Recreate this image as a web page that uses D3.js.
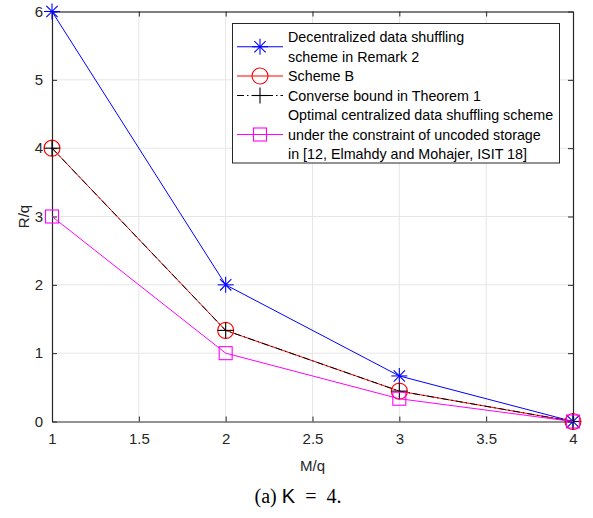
<!DOCTYPE html>
<html>
<head>
<meta charset="utf-8">
<script src="https://cdn.jsdelivr.net/npm/d3@7"></script>
<style>
  body { margin: 0; background: #fff; }
  text { font-family: "Liberation Sans", Arial, sans-serif; }
</style>
</head>
<body>
<div class="chart"></div>
<script>
var svg_width = 593
var svg_height = 518

// Data
var memory = [1, 2, 3, 4]
var decentralized = [6, 2, 2 / 3, 0]
var schemeB = [4, 4 / 3, 4 / 9, 0]
var converse = [4, 4 / 3, 4 / 9, 0]
var centralized = [3, 1, 1 / 3, 0]
var xTicks = [1, 1.5, 2, 2.5, 3, 3.5, 4]
var yTicks = [0, 1, 2, 3, 4, 5, 6]
var legendLabels = [
  ["Decentralized data shuffling", "scheme in Remark 2"],
  ["Scheme B"],
  ["Converse bound in Theorem 1"],
  ["Optimal centralized data shuffling scheme", "under the constraint of uncoded storage", "in [12, Elmahdy and Mohajer, ISIT 18]"]
]

var plot = { left: 52, right: 573, top: 11.5, bottom: 421.5 }

var svg = d3.select(".chart")
  .append("svg")
  .attr("width", svg_width)
  .attr("height", svg_height)

var xScale = d3.scaleLinear().domain([1, 4]).range([plot.left, plot.right])
var yScale = d3.scaleLinear().domain([0, 6]).range([plot.bottom, plot.top])

// grid
svg.append("g").selectAll("line").data(xTicks.slice(1, -1)).enter().append("line")
  .attr("x1", d => xScale(d)).attr("x2", d => xScale(d))
  .attr("y1", plot.top).attr("y2", plot.bottom)
  .attr("stroke", "#e6e6e6").attr("stroke-width", 1)
svg.append("g").selectAll("line").data(yTicks.slice(1, -1)).enter().append("line")
  .attr("y1", d => yScale(d)).attr("y2", d => yScale(d))
  .attr("x1", plot.left).attr("x2", plot.right)
  .attr("stroke", "#e6e6e6").attr("stroke-width", 1)

// axes
var axisColor = "#262626"
var bottomAxis = svg.append("g")
  .attr("transform", `translate(0,${plot.bottom})`)
  .call(d3.axisBottom(xScale).tickValues(xTicks).tickSizeInner(-5).tickSizeOuter(0).tickPadding(12).tickFormat(d3.format("")))
var topAxis = svg.append("g")
  .attr("transform", `translate(0,${plot.top})`)
  .call(d3.axisTop(xScale).tickValues(xTicks).tickSizeInner(-5).tickSizeOuter(0).tickFormat(""))
var leftAxis = svg.append("g")
  .attr("transform", `translate(${plot.left},0)`)
  .call(d3.axisLeft(yScale).tickValues(yTicks).tickSizeInner(-5).tickSizeOuter(0).tickPadding(9).tickFormat(d3.format("d")))
var rightAxis = svg.append("g")
  .attr("transform", `translate(${plot.right},0)`)
  .call(d3.axisRight(yScale).tickValues(yTicks).tickSizeInner(-5).tickSizeOuter(0).tickFormat(""))

;[bottomAxis, topAxis, leftAxis, rightAxis].forEach(function(a) {
  a.select(".domain").attr("stroke", axisColor).attr("stroke-width", 1.2)
  a.selectAll(".tick line").attr("stroke", axisColor)
  a.selectAll(".tick text").attr("fill", axisColor).style("font-size", "15px")
    .style("font-family", "Liberation Sans, Arial, sans-serif")
})
topAxis.select(".domain").attr("stroke", "#000")

// series
var line = d3.line().x(d => xScale(d[0])).y(d => yScale(d[1]))
function pts(vals) { return memory.map((m, i) => [m, vals[i]]) }

function drawMarker(g, type, x, y, color) {
  if (type === "star") {
    var r = 8
    ;[0, 45, 90, 135].forEach(function(a) {
      var rad = a * Math.PI / 180
      g.append("line")
        .attr("x1", x - r * Math.cos(rad)).attr("y1", y - r * Math.sin(rad))
        .attr("x2", x + r * Math.cos(rad)).attr("y2", y + r * Math.sin(rad))
        .attr("stroke", color).attr("stroke-width", 1.1)
    })
  } else if (type === "circle") {
    g.append("circle").attr("cx", x).attr("cy", y).attr("r", 8)
      .attr("fill", "none").attr("stroke", color).attr("stroke-width", 1.1)
  } else if (type === "plus") {
    var p = 8
    g.append("line").attr("x1", x - p).attr("x2", x + p).attr("y1", y).attr("y2", y)
      .attr("stroke", color).attr("stroke-width", 1.1)
    g.append("line").attr("x1", x).attr("x2", x).attr("y1", y - p).attr("y2", y + p)
      .attr("stroke", color).attr("stroke-width", 1.1)
  } else if (type === "square") {
    var s = 6.5
    g.append("rect").attr("x", x - s).attr("y", y - s).attr("width", 2 * s).attr("height", 2 * s)
      .attr("fill", "none").attr("stroke", color).attr("stroke-width", 1.1)
  }
}

var series = [
  { vals: decentralized, color: "#0000ff", marker: "star", dash: null },
  { vals: schemeB, color: "#ff0000", marker: "circle", dash: null },
  { vals: converse, color: "#000000", marker: "plus", dash: "7,3,1.5,3" },
  { vals: centralized, color: "#ff00ff", marker: "square", dash: null }
]

series.forEach(function(s) {
  var g = svg.append("g")
  g.append("path").datum(pts(s.vals))
    .attr("d", line)
    .attr("fill", "none")
    .attr("stroke", s.color)
    .attr("stroke-width", 1)
    .attr("stroke-dasharray", s.dash)
  pts(s.vals).forEach(function(p) {
    drawMarker(g, s.marker, xScale(p[0]), yScale(p[1]), s.color)
  })
})

// legend
var legend = svg.append("g")
legend.append("rect")
  .attr("x", 232.5).attr("y", 23.5).attr("width", 327).attr("height", 139.5)
  .attr("fill", "#fff").attr("stroke", "#262626").attr("stroke-width", 1)

var rowH = 19.5
var firstRow = 37
var rowIndex = 0
legendLabels.forEach(function(lines, i) {
  var s = series[i]
  var rows = lines.map((t, j) => firstRow + (rowIndex + j) * rowH)
  var mid = (rows[0] + rows[rows.length - 1]) / 2
  legend.append("line")
    .attr("x1", 237).attr("x2", 283).attr("y1", mid).attr("y2", mid)
    .attr("stroke", s.color).attr("stroke-width", 1)
    .attr("stroke-dasharray", s.dash)
  drawMarker(legend, s.marker, 260, mid, s.color)
  lines.forEach(function(t, j) {
    legend.append("text")
      .attr("x", 288).attr("y", rows[j])
      .attr("dy", "0.35em")
      .style("font-size", "14.3px")
      .attr("fill", "#000")
      .text(t)
  })
  rowIndex += lines.length
})

// axis labels
svg.append("text")
  .attr("x", (plot.left + plot.right) / 2).attr("y", 466)
  .attr("dy", "0.35em")
  .attr("text-anchor", "middle")
  .style("font-size", "15px")
  .attr("fill", axisColor)
  .text("M/q")

svg.append("text")
  .attr("transform", `translate(24, ${(plot.top + plot.bottom) / 2}) rotate(-90)`)
  .attr("dy", "0.35em")
  .attr("text-anchor", "middle")
  .style("font-size", "15px")
  .attr("fill", axisColor)
  .text("R/q")

// caption
var cap = svg.append("text")
  .attr("x", 298).attr("y", 496)
  .attr("dy", "0.35em")
  .attr("text-anchor", "middle")
  .style("font-size", "20px")
  .style("font-family", "Liberation Serif, Times New Roman, serif")
  .attr("fill", "#000")
cap.append("tspan").text("(a) ")
cap.append("tspan").style("font-family", "Liberation Sans, Arial, sans-serif").text("K")
cap.append("tspan").text("\u2002=\u2002" + "4.")
</script>
</body>
</html>
